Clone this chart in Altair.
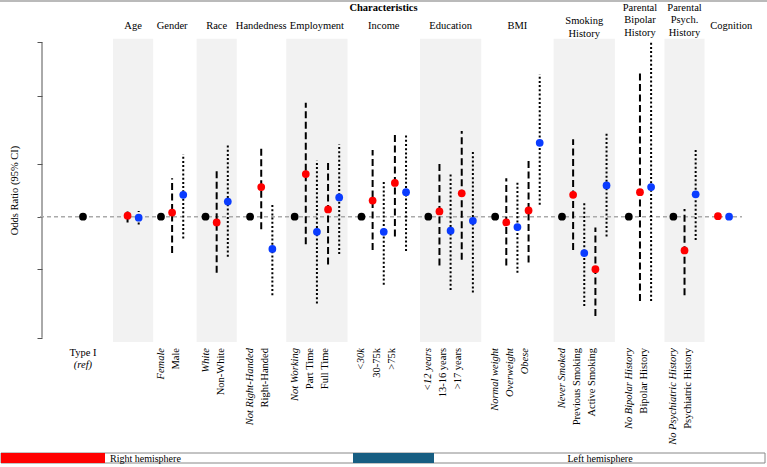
import altair as alt
import pandas as pd

# Characteristic groups, left to right
group_names = ["Age", "Gender", "Race", "Handedness", "Employment", "Income",
               "Education", "BMI", "Smoking History", "Parental Bipolar History",
               "Parental Psych. History", "Cognition"]
group_headers = ["Age", "Gender", "Race", "Handedness", "Employment", "Income",
                 "Education", "BMI", "Smoking\nHistory", "Parental\nBipolar\nHistory",
                 "Parental\nPsych.\nHistory", "Cognition"]
reference_levels = ["", "Female", "White", "Not Right-Handed", "Not Working", "<30k",
                    "<12 years", "Normal weight", "Never Smoked", "No Bipolar History",
                    "No Psychiatric History", ""]

# Compared levels, one entry per level
level_group = [0, 1, 2, 3, 4, 4, 5, 5, 6, 6, 7, 7, 8, 8, 9, 10, 11]
level_names = ["", "Male", "Non-White", "Right-Handed", "Part Time", "Full Time",
               "30-75k", ">75k", "13-16 years", ">17 years", "Overweight", "Obese",
               "Previous Smoking", "Active Smoking", "Bipolar History",
               "Psychiatric History", ""]
level_italic = [False] * 10 + [True, True] + [False] * 5

# Log odds ratios (vs. Type I reference) with 95% CI, right hemisphere
right_est = [0.02, 0.08, -0.11, 0.57, 0.82, 0.14, 0.31, 0.65, 0.10, 0.45,
             -0.11, 0.12, 0.42, -1.01, 0.47, -0.65, 0.01]
right_lo = [-0.11, -0.70, -1.08, -0.24, -0.53, -0.92, -0.64, -0.38, -0.94, -0.83,
            -0.94, -0.88, -0.64, -1.91, -1.62, -1.51, 0.01]
right_hi = [0.10, 0.74, 0.88, 1.35, 2.19, 1.05, 1.28, 1.58, 1.03, 1.65,
            0.74, 1.08, 1.49, -0.21, 2.80, 0.15, 0.01]

# Same, left hemisphere
left_est = [-0.02, 0.42, 0.29, -0.62, -0.29, 0.37, -0.29, 0.47, -0.27, -0.08,
            -0.20, 1.42, -0.70, 0.60, 0.57, 0.43, 0.00]
left_lo = [-0.15, -0.42, -0.77, -1.51, -1.67, -0.72, -1.31, -0.66, -1.41, -1.46,
           -1.08, 0.23, -1.72, -0.38, -1.62, -0.45, 0.00]
left_hi = [0.11, 1.20, 1.37, 0.24, 1.08, 1.39, 0.69, 1.58, 0.82, 1.28,
           0.66, 2.74, 0.28, 1.62, 3.35, 1.32, 0.00]

y_ticks = [-2.33, -1.01, 0, 1.01, 2.33, 3.35]

FONT = "Liberation Serif"
RED, BLUE, TEAL = "#ff0000", "#0a3cff", "#175e82"

# ---- slot layout: reference point, then a red/blue pair per level ----
points, cis, labels, spans = [], [], [], []
points.append(dict(x=0, y=0.0, side="ref"))
cursor = 4
for g in range(len(group_names)):
    start = cursor
    label_x = cursor
    if reference_levels[g]:
        points.append(dict(x=cursor, y=0.0, side="ref"))
        labels.append(dict(x=cursor, text=reference_levels[g], italic=True))
        cursor += 1
    k = 0
    for i, gg in enumerate(level_group):
        if gg != g:
            continue
        k += 1
        points.append(dict(x=cursor, y=right_est[i], side="right"))
        points.append(dict(x=cursor + 1, y=left_est[i], side="left"))
        cis.append(dict(x=cursor, lo=right_lo[i], hi=right_hi[i], side="right"))
        cis.append(dict(x=cursor + 1, lo=left_lo[i], hi=left_hi[i], side="left"))
        if level_names[i]:
            labels.append(dict(x=label_x + 1.35 * k, text=level_names[i],
                               italic=level_italic[i]))
        cursor += 2
    spans.append((start, cursor - 1))
    cursor += 1

pts_df = pd.DataFrame(points)
ci_df = pd.DataFrame(cis)
lab_df = pd.DataFrame(labels)

# the last header sits a little right of its pair
header_nudge = {len(group_names) - 1: 0.7}

hdr_rows, band_rows = [], []
for g, (a, b) in enumerate(spans):
    c = (a + b) / 2
    n = b - a + 1
    hdr_rows.append(dict(x=c + header_nudge.get(g, 0), text=group_headers[g],
                         lines=group_headers[g].count("\n") + 1))
    if g % 2 == 0:
        half = max(1.8, n / 2 + 0.25)
        band_rows.append(dict(x=c - half, x2=c + half, y=3.42, y2=-2.41))
hdr_df = pd.DataFrame(hdr_rows)
band_df = pd.DataFrame(band_rows)

XS = alt.Scale(domain=[-3.68, 59.16], nice=False, zero=False)
YS = alt.Scale(domain=[-2.487, 3.59], nice=False, zero=False)
YAX = alt.Axis(values=y_ticks, labels=False, domain=False, grid=False,
               ticks=True, tickSize=5, tickColor="#555555", tickWidth=1,
               title="Odds Ratio (95% CI)", titleFont=FONT,
               titleFontSize=10.5, titleFontWeight="normal",
               titleColor="black", titleX=-28, titleY=160,
               titleAngle=270, titleAlign="center", titleBaseline="middle")


def X(f):
    return alt.X(f, type="quantitative", scale=XS, axis=None)


def Y(f):
    return alt.Y(f, type="quantitative", scale=YS, axis=YAX)


one = pd.DataFrame({"z": [0]})

bands = alt.Chart(band_df).mark_rect(color="#f2f2f2").encode(
    x=X("x"), x2="x2", y=Y("y"), y2="y2")

axis_line = alt.Chart(pd.DataFrame({"lo": [min(y_ticks)], "hi": [max(y_ticks)]})).mark_rule(
    color="#555555", strokeWidth=1).encode(x=alt.value(0), y=Y("lo"), y2="hi")

baseline = alt.Chart(pd.DataFrame({"y": [0.0]})).mark_rule(
    color="#aaaaaa", strokeWidth=1.5, strokeDash=[4, 3]).encode(
    x=alt.value(-2), x2=alt.value(700), y=Y("y"))

ci_right = alt.Chart(ci_df[ci_df.side == "right"]).mark_rule(
    color="black", strokeWidth=2, strokeDash=[7, 3.5]).encode(
    x=X("x"), y=Y("lo"), y2="hi")
ci_left = alt.Chart(ci_df[ci_df.side == "left"]).mark_rule(
    color="black", strokeWidth=2, strokeDash=[2, 2.2]).encode(
    x=X("x"), y=Y("lo"), y2="hi")

dots = alt.Chart(pts_df).mark_circle(size=60, opacity=1).encode(
    x=X("x"), y=Y("y"),
    color=alt.Color("side:N", scale=alt.Scale(domain=["ref", "right", "left"],
                                              range=["black", RED, BLUE]), legend=None))

lab_norm = alt.Chart(lab_df[~lab_df.italic]).mark_text(
    font=FONT, fontSize=10.5, angle=270, align="right", baseline="middle",
    color="black").encode(x=X("x"), y=alt.value(318), text="text:N")
lab_ital = alt.Chart(lab_df[lab_df.italic]).mark_text(
    font=FONT, fontSize=10.5, fontStyle="italic", angle=270, align="right",
    baseline="middle", color="black").encode(x=X("x"), y=alt.value(318), text="text:N")

ref_df = pd.DataFrame({"x": [0], "a": ["Type I"], "b": ["(ref)"]})
ref_a = alt.Chart(ref_df).mark_text(font=FONT, fontSize=10.5, baseline="middle",
                                    color="black").encode(
    x=X("x"), y=alt.value(323), text="a:N")
ref_b = alt.Chart(ref_df).mark_text(font=FONT, fontSize=10.5, fontStyle="italic",
                                    baseline="middle", color="black").encode(
    x=X("x"), y=alt.value(335), text="b:N")

# first-line centre of each header block, by number of lines
header_layers = []
for n, yc in [(1, -4), (2, -9.3), (3, -22.5)]:
    header_layers.append(
        alt.Chart(hdr_df[hdr_df.lines == n]).mark_text(
            font=FONT, fontSize=10.5, baseline="middle", lineBreak="\n",
            lineHeight=12.9, color="black").encode(
            x=X("x"), y=alt.value(yc), text="text:N"))

top_title = alt.Chart(one).mark_text(
    font=FONT, fontSize=10.5, fontWeight="bold", baseline="middle",
    color="black").encode(x=alt.value(341.5), y=alt.value(-22),
                          text=alt.value("Characteristics"))

top_line = alt.Chart(one).mark_rule(color="#777777", strokeWidth=1.2).encode(
    x=alt.value(-42), x2=alt.value(725), y=alt.value(-29))

# Hemisphere key along the bottom
key_box = alt.Chart(one).mark_rect(fill="white", stroke="#888888", strokeWidth=1).encode(
    x=alt.value(-41), x2=alt.value(723), y=alt.value(423), y2=alt.value(433))
key_red = alt.Chart(one).mark_rect(fill=RED).encode(
    x=alt.value(-41), x2=alt.value(63), y=alt.value(423), y2=alt.value(433))
key_teal = alt.Chart(one).mark_rect(fill=TEAL).encode(
    x=alt.value(311), x2=alt.value(392), y=alt.value(423), y2=alt.value(433))
key_txt_r = alt.Chart(one).mark_text(font=FONT, fontSize=10, align="left",
                                     baseline="middle", color="black").encode(
    x=alt.value(68), y=alt.value(428.5), text=alt.value("Right hemisphere"))
key_txt_l = alt.Chart(one).mark_text(font=FONT, fontSize=10, align="center",
                                     baseline="middle", color="black").encode(
    x=alt.value(558), y=alt.value(428.5), text=alt.value("Left hemisphere"))

chart = alt.layer(
    bands, axis_line, baseline, ci_right, ci_left, dots,
    lab_norm, lab_ital, ref_a, ref_b, *header_layers, top_title, top_line,
    key_box, key_red, key_teal, key_txt_r, key_txt_l
).properties(
    width=700, height=316,
    autosize=alt.AutoSizeParams(type="none"),
    padding={"left": 42, "top": 30, "right": 25, "bottom": 121},
    background="white",
).configure_view(stroke=None)

chart.save("out.html", embed_options={"renderer": "svg", "actions": False})
